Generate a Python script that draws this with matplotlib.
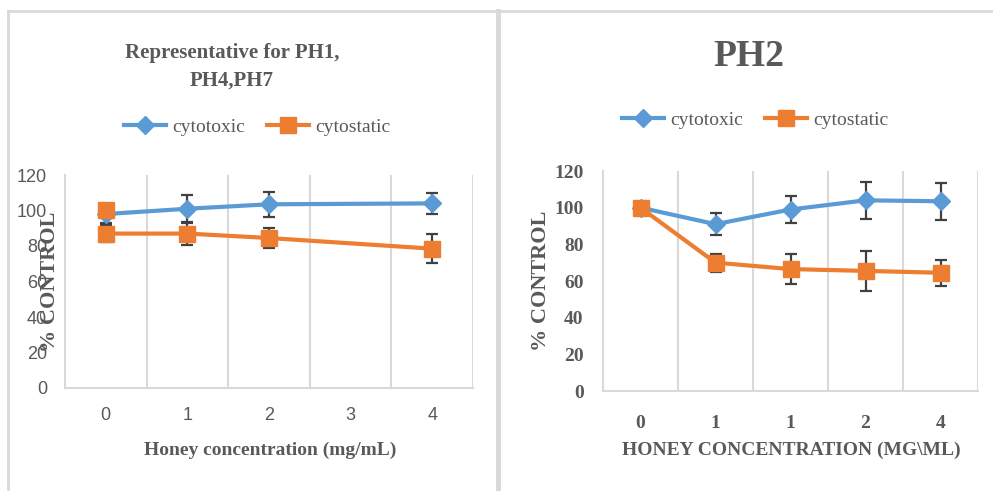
import numpy as np
import matplotlib
matplotlib.use("Agg")
import matplotlib.pyplot as plt
from matplotlib.lines import Line2D

# ---- data ----
left_x = [0, 1, 2, 4]
left_ticks = ['0', '1', '2', '3', '4']
left_cytotoxic = [98, 101, 103.5, 104]
left_cytotoxic_err = [5, 8, 7, 6]
left_cytostatic = [87, 87, 84.5, 78.5]
left_cytostatic_err = [5, 6.5, 5.5, 8]
left_extra_x = [0]
left_extra_y = [100.5]

right_x = [0, 1, 2, 3, 4]
right_ticks = ['0', '1', '1', '2', '4']
right_cytotoxic = [100, 91, 99, 104, 103.5]
right_cytotoxic_err = [0, 6, 7.5, 10, 10]
right_cytostatic = [100, 70, 66.5, 65.5, 64.5]
right_cytostatic_err = [0, 5, 8, 11, 7]

BLUE = '#5B9BD5'
ORANGE = '#ED7D31'
GRID = '#D9D9D9'
TXT = '#595959'
ERR = '#404040'
SERIF = 'Liberation Serif'
SANS = 'Liberation Sans'

W, H = 993, 491
fig = plt.figure(figsize=(W / 100, H / 100), dpi=100)
fig.patch.set_facecolor('white')


def px_axes(x0, y0, x1, y1):
    return fig.add_axes([x0 / W, 1 - y1 / H, (x1 - x0) / W, (y1 - y0) / H])


def style_axes(ax):
    ax.set_xlim(-0.5, 4.5)
    ax.set_ylim(0, 120)
    ax.set_yticks(np.arange(0, 121, 20))
    ax.set_xticks(range(5))
    for s in ['top', 'right']:
        ax.spines[s].set_visible(False)
    for s in ['left', 'bottom']:
        ax.spines[s].set_color(GRID)
        ax.spines[s].set_linewidth(1.5)
    for xv in [0.5, 1.5, 2.5, 3.5, 4.5]:
        ax.axvline(xv, color=GRID, lw=1.5, zorder=0)
    ax.tick_params(length=0)


def draw_series(ax, x, y, e, color, marker, ms, label):
    ax.errorbar(x, y, yerr=e, fmt='none', ecolor=ERR, elinewidth=1.6,
                capsize=4.5, capthick=1.6, zorder=3)
    ax.plot(x, y, color=color, lw=3, marker=marker, ms=ms,
            label=label, zorder=4)


# ---- left chart ----
axL = px_axes(65, 175, 473, 388)
style_axes(axL)
draw_series(axL, left_x, left_cytotoxic, left_cytotoxic_err, BLUE, 'D', 9, 'cytotoxic')
draw_series(axL, left_x, left_cytostatic, left_cytostatic_err, ORANGE, 's', 12, 'cytostatic')
axL.plot(left_extra_x, left_extra_y, ls='none', marker='s', ms=12, color=ORANGE, zorder=5)
axL.set_xticklabels(left_ticks, fontsize=13, color=TXT, family=SANS)
axL.set_yticklabels([str(v) for v in range(0, 121, 20)], fontsize=13, color=TXT, family=SANS)
axL.tick_params(axis='y', pad=13)
axL.tick_params(axis='x', pad=14)
fig.text(50 / W, 1 - 282 / H, '% CONTROL', rotation=90, ha='center', va='center',
         fontsize=16, fontweight='bold', family=SERIF, color=TXT)
fig.text(270 / W, 1 - 450 / H, 'Honey concentration (mg/mL)', ha='center', va='center',
         fontsize=14, fontweight='bold', family=SERIF, color=TXT)
fig.text(232 / W, 1 - 67 / H, 'Representative for PH1,\nPH4,PH7', ha='center', va='center',
         fontsize=15, fontweight='bold', family=SERIF, color=TXT, linespacing=1.5)
axL.legend(loc='center', bbox_to_anchor=(257 / W, 1 - 127 / H), bbox_transform=fig.transFigure,
           ncol=2, frameon=False, handlelength=2.2, handletextpad=0.3, columnspacing=1.1,
           prop={'family': SERIF, 'size': 14}, labelcolor=TXT)

# ---- right chart ----
axR = px_axes(603, 171, 978, 391)
style_axes(axR)
draw_series(axR, right_x, right_cytotoxic, right_cytotoxic_err, BLUE, 'D', 9, 'cytotoxic')
draw_series(axR, right_x, right_cytostatic, right_cytostatic_err, ORANGE, 's', 12, 'cytostatic')
axR.set_xticklabels(right_ticks, fontsize=14, color=TXT, family=SERIF, fontweight='bold')
axR.set_yticklabels([str(v) for v in range(0, 121, 20)], fontsize=14, color=TXT,
                    family=SERIF, fontweight='bold')
axR.tick_params(axis='y', pad=14)
axR.tick_params(axis='x', pad=17)
fig.text(541 / W, 1 - 281 / H, '% CONTROL', rotation=90, ha='center', va='center',
         fontsize=16, fontweight='bold', family=SERIF, color=TXT)
fig.text(791 / W, 1 - 450 / H, 'HONEY CONCENTRATION (MG\\ML)', ha='center', va='center',
         fontsize=14, fontweight='bold', family=SERIF, color=TXT)
fig.text(749 / W, 1 - 57 / H, 'PH2', ha='center', va='center',
         fontsize=27, fontweight='bold', family=SERIF, color=TXT)
axR.legend(loc='center', bbox_to_anchor=(755 / W, 1 - 120 / H), bbox_transform=fig.transFigure,
           ncol=2, frameon=False, handlelength=2.2, handletextpad=0.3, columnspacing=1.1,
           prop={'family': SERIF, 'size': 14}, labelcolor=TXT)

# ---- panel borders ----
for (x0, y0, x1, y1, lw) in [(8, 11, 993, 11, 2), (8, 11, 8, 491, 2), (498, 11, 498, 491, 3.5)]:
    fig.add_artist(Line2D([x0 / W, x1 / W], [1 - y0 / H, 1 - y1 / H], color=GRID, lw=lw,
                          transform=fig.transFigure))

fig.savefig('out.png', dpi=100)
